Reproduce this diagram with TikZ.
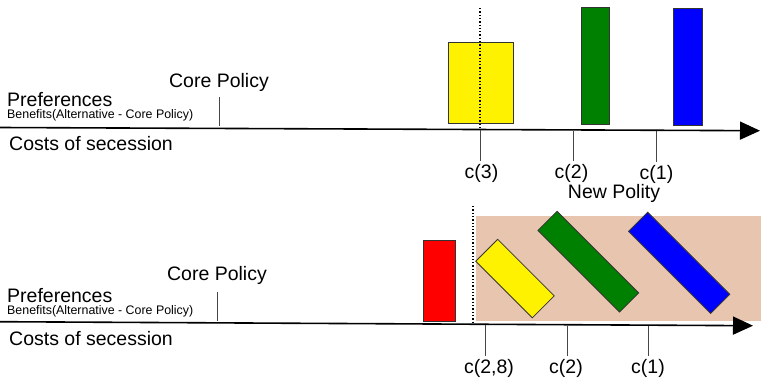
\documentclass[tikz,border=0pt]{standalone}
\usepackage{fontspec}
\setmainfont{Liberation Sans}
\usetikzlibrary{arrows.meta}
\definecolor{polity}{RGB}{232,197,174}
\definecolor{bargreen}{RGB}{0,128,0}
\definecolor{tickgray}{RGB}{70,70,70}
\tikzset{
  axisline/.style={line width=1.6pt,-{Triangle[length=20pt,width=18pt]}},
  tickline/.style={color=tickgray,line width=0.9pt},
  bar/.style={draw=black!80,line width=0.8pt,inner sep=0pt},
  big/.style={font=\fontsize{19.5}{23}\selectfont,inner sep=3pt},
  small/.style={font=\fontsize{12.4}{14}\selectfont,inner sep=0pt},
  cutline/.style={dotted,line width=1.3pt}
}
\begin{document}
\begin{tikzpicture}[x=1pt,y=1pt,yscale=-1,xscale=1]
\useasboundingbox (0,0) rectangle (761,378);

%%%%%%%%%%%%%%%% upper panel
% Bars
\node [bar,fill=yellow,minimum width=65pt,minimum height=81pt] (yellowA) at (480.5,82.5) {};
\node [bar,fill=bargreen,minimum width=28pt,minimum height=117pt] (greenA) at (595,65.5) {};
\node [bar,fill=blue,minimum width=29pt,minimum height=117pt] (blueA) at (687.5,66.5) {};
% Dotted cut
\draw [cutline] (480,8) -- (480,128) ;
% Axis
\coordinate (startA) at (0,127.5);
\coordinate (endA) at (760,130.7);
\draw [axisline] (startA) -- (endA) ;
% Text Node
\node [big] (coreA) at (219,82) {Core Policy};
\draw [tickline] (219,97) -- (219,126) ;
% Text Node
\node [big,anchor=base west,inner sep=0pt,text depth=0pt] (prefA) at (7,106) {Preferences};
\node [small,anchor=base west,text height=8.8pt] (beneA) at (7,118.5) {Benefits(Alternative - Core Policy)};
\node [big,anchor=west,inner sep=0pt] (costA) at (9,143.5) {Costs of secession};
% Cost ticks
\node [big] (cthree) at (481.5,173) {c(3)};
\node [big] (ctwoA) at (571.5,173) {c(2)};
\node [big] (coneA) at (656.5,174) {c(1)};
\draw [tickline] (480,129.5) -- (cthree.north -| 480,0) ;
\draw [tickline] (573,130.5) -- (ctwoA.north -| 573,0) ;
\draw [tickline] (656,130.5) -- (coneA.north -| 656,0) ;

%%%%%%%%%%%%%%%% lower panel
% New polity area
\fill [polity] (476,216) rectangle (761,320.5) ;
\node [big] (polity) at (614,193) {New Polity};
% Bars
\node [bar,fill=red,minimum width=32pt,minimum height=81pt] (redB) at (439,280.5) {};
\node [bar,fill=yellow,minimum width=80pt,minimum height=31pt,rotate=-45] (yellowB) at (515,278.6) {};
\node [bar,fill=bargreen,minimum width=115.5pt,minimum height=27pt,rotate=-45] (greenB) at (588.3,261.7) {};
\node [bar,fill=blue,minimum width=116pt,minimum height=27pt,rotate=-45] (blueB) at (679.2,262.8) {};
% Dotted cut
\draw [cutline] (473,206) -- (473,323) ;
% Axis
\coordinate (startB) at (0,321.7);
\coordinate (endB) at (753,325.7);
\draw [axisline] (startB) -- (endB) ;
% Text Node
\node [big] (coreB) at (217,275) {Core Policy};
\draw [tickline] (217,292) -- (217,321) ;
% Text Node
\node [big,anchor=base west,inner sep=0pt,text depth=0pt] (prefB) at (7,302) {Preferences};
\node [small,anchor=base west,text height=8.8pt] (beneB) at (7,314.5) {Benefits(Alternative - Core Policy)};
\node [big,anchor=west,inner sep=0pt] (costB) at (9,338.5) {Costs of secession};
% Cost ticks
\node [big] (ctweight) at (489,368) {c(2,8)};
\node [big] (ctwoB) at (566,368) {c(2)};
\node [big] (coneB) at (648,368) {c(1)};
\draw [tickline] (485,325) -- (ctweight.north -| 485,0) ;
\draw [tickline] (567,325.5) -- (ctwoB.north -| 567,0) ;
\draw [tickline] (648,325.5) -- (coneB.north -| 648,0) ;

\end{tikzpicture}
\end{document}
